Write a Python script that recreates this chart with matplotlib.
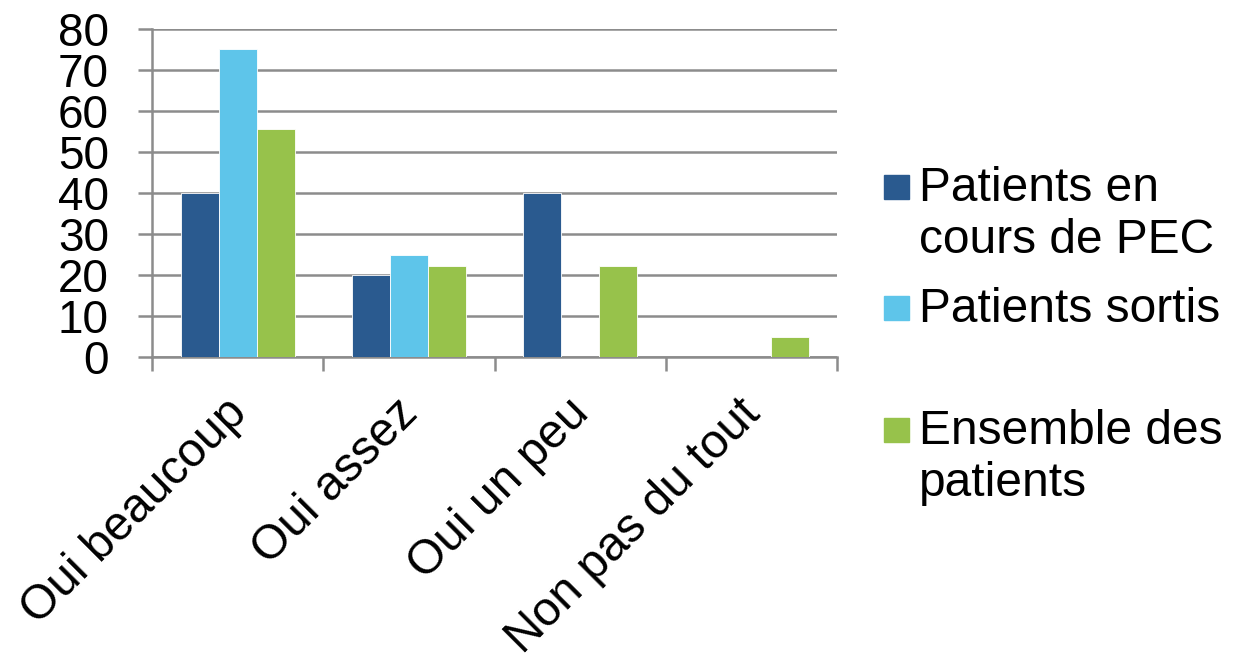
import numpy as np
import matplotlib.pyplot as plt
from matplotlib.patches import Rectangle
from matplotlib.transforms import ScaledTranslation

plt.rcParams['font.family'] = ['Liberation Sans', 'DejaVu Sans']

categories = ['Oui beaucoup', 'Oui assez', 'Oui un peu', 'Non pas du tout']
series_names = ['Patients en\ncours de PEC', 'Patients sortis', 'Ensemble des\npatients']
en_cours = [40, 20, 40, 0]
sortis = [75, 25, 0, 0]
ensemble = [55.5, 22.2, 22.2, 5]
colors = ['#2A5A8F', '#5EC5EA', '#97C24B']
y_ticks = [0, 10, 20, 30, 40, 50, 60, 70, 80]

FS = 34.5
GRID = '#8C8C8C'

fig = plt.figure(figsize=(12.46, 6.53), dpi=100)
ax = fig.add_axes([0.122, 0.453, 0.550, 0.503])

x = np.arange(len(categories))
w = 0.222
for i, (vals, col) in enumerate(zip([en_cours, sortis, ensemble], colors)):
    ax.bar(x + (i - 1) * w, vals, width=w, color=col, edgecolor='white',
           linewidth=0.6, zorder=3)

ax.set_xlim(-0.5, len(categories) - 0.5)
ax.set_ylim(0, 80)
ax.set_yticks(y_ticks)
ax.yaxis.grid(True, color=GRID, linewidth=1.8, zorder=0)
ax.tick_params(axis='y', labelsize=33, length=10, width=1.8, color=GRID, pad=21)

# category labels at the centres, tick marks on the boundaries
ax.set_xticks(x)
ax.set_xticklabels(categories, rotation=45, ha='right', rotation_mode='anchor', fontsize=FS)
ax.tick_params(axis='x', which='major', length=0, pad=14)
ax.set_xticks(np.arange(-0.5, len(categories)), minor=True)
ax.tick_params(axis='x', which='minor', length=10, width=1.8, color=GRID)
shift = ScaledTranslation(-0.14, -0.14, fig.dpi_scale_trans)
for lbl in ax.get_xticklabels():
    lbl.set_transform(lbl.get_transform() + shift)

for side in ['top', 'right']:
    ax.spines[side].set_visible(False)
for side in ['left', 'bottom']:
    ax.spines[side].set_color(GRID)
    ax.spines[side].set_linewidth(1.8)

# legend drawn by hand so the entries sit on an even grid
W, H = 1246, 653
for i, (name, col) in enumerate(zip(series_names, colors)):
    top = 175 + i * 121.5
    fig.patches.append(Rectangle((884 / W, 1 - (top + 24) / H), 25 / W, 24 / H,
                                 transform=fig.transFigure, color=col))
    fig.text(919 / W, 1 - (top - 9) / H, name, fontsize=FS, va='top', ha='left',
             linespacing=1.2)

fig.savefig('out.png', dpi=100)
